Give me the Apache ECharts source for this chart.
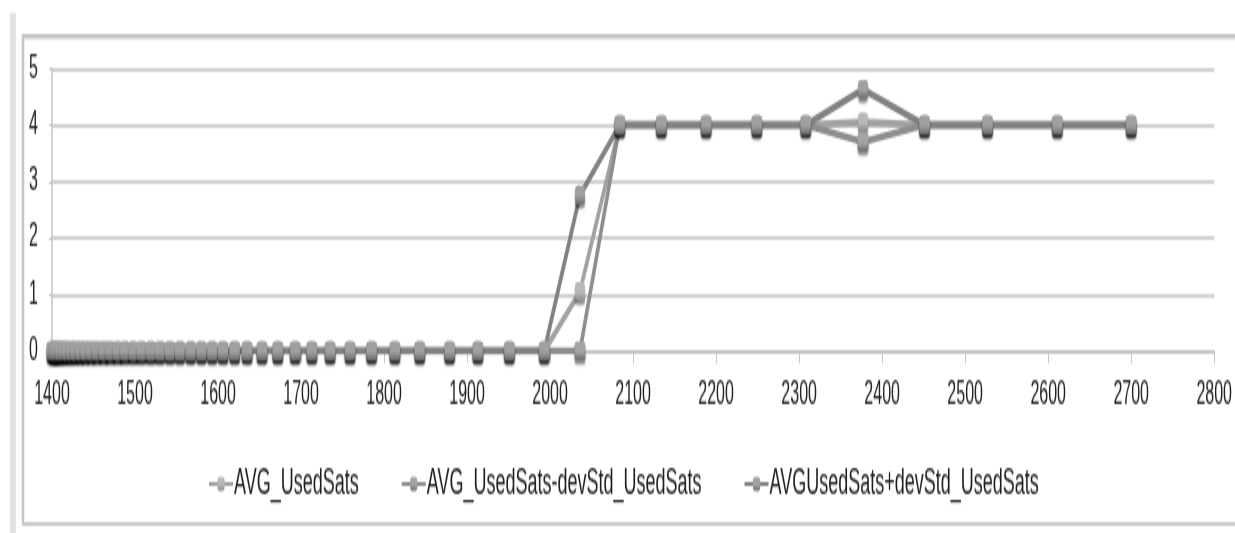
<!DOCTYPE html>
<html>
<head>
<meta charset="utf-8">
<script src="https://cdn.jsdelivr.net/npm/echarts@6/dist/echarts.min.js"></script>
<style>
  html, body { margin: 0; padding: 0; background: #ffffff; }
  #wrap { width: 1235px; height: 533px; overflow: hidden; position: relative; }
  /* the chart is laid out at half height and stretched vertically */
  #chart { width: 1235px; height: 266.5px; transform: scaleY(2); transform-origin: 0 0; }
</style>
</head>
<body>
<div id="wrap"><div id="chart"></div></div>
<script>
// Sample positions (x) shared by the three series
const xValues = [
  1400, 1402, 1404, 1407, 1410, 1414, 1418, 1423, 1428, 1434,
  1440, 1447, 1454, 1462, 1470, 1479, 1488, 1498, 1508, 1519,
  1530, 1542, 1554, 1567, 1580, 1593, 1606, 1620, 1635, 1653,
  1672, 1693, 1713, 1735, 1759, 1785, 1813, 1843, 1879, 1913,
  1951, 1993, 2036, 2084, 2134, 2188, 2249, 2308, 2377, 2451,
  2527, 2611, 2700
];

const avgUsedSats = [
  0, 0, 0, 0, 0, 0, 0, 0, 0, 0,
  0, 0, 0, 0, 0, 0, 0, 0, 0, 0,
  0, 0, 0, 0, 0, 0, 0, 0, 0, 0,
  0, 0, 0, 0, 0, 0, 0, 0, 0, 0,
  0, 0, 1.05, 4, 4, 4, 4, 4, 4.05, 4,
  4, 4, 4
];

const avgMinusStd = [
  0, 0, 0, 0, 0, 0, 0, 0, 0, 0,
  0, 0, 0, 0, 0, 0, 0, 0, 0, 0,
  0, 0, 0, 0, 0, 0, 0, 0, 0, 0,
  0, 0, 0, 0, 0, 0, 0, 0, 0, 0,
  0, 0, 0, 4, 4, 4, 4, 4, 3.7, 4,
  4, 4, 4
];

const avgPlusStd = [
  0, 0, 0, 0, 0, 0, 0, 0, 0, 0,
  0, 0, 0, 0, 0, 0, 0, 0, 0, 0,
  0, 0, 0, 0, 0, 0, 0, 0, 0, 0,
  0, 0, 0, 0, 0, 0, 0, 0, 0, 0,
  0, 0, 2.76, 4, 4, 4, 4, 4, 4.63, 4,
  4, 4, 4
];

const seriesNames = [
  'AVG_UsedSats',
  'AVG_UsedSats-devStd_UsedSats',
  'AVGUsedSats+devStd_UsedSats'
];

const xMin = 1400, xMax = 2800, xStep = 100;
const yMin = 0, yMax = 5, yStep = 1;

const FONT = '"Liberation Sans", Arial, sans-serif';

function pairs(ys) {
  return xValues.map((x, i) => [x, ys[i]]);
}

function markerFill(top, bottom) {
  return {
    type: 'linear', x: 0, y: 0, x2: 0, y2: 1,
    colorStops: [{ offset: 0, color: top }, { offset: 0.55, color: top }, { offset: 1, color: bottom }]
  };
}

function makeSeries(name, ys, lineColor, top, bottom, size) {
  return {
    name: name,
    type: 'line',
    data: pairs(ys),
    symbol: 'roundRect',
    symbolSize: size,
    showSymbol: true,
    lineStyle: { color: lineColor, width: 3.6 },
    itemStyle: {
      color: markerFill(top, bottom),
      borderWidth: 0,
      shadowColor: 'rgba(0,0,0,0.45)',
      shadowBlur: 1.5,
      shadowOffsetY: 2
    },
    emphasis: { disabled: true },
    animation: false
  };
}

const chart = echarts.init(document.getElementById('chart'), null, { renderer: 'canvas', devicePixelRatio: 1 });

chart.setOption({
  backgroundColor: '#ffffff',
  animation: false,
  graphic: [
    { type: 'rect', shape: { x: 10, y: 6.5, width: 6, height: 262 }, style: { fill: '#e2e2e2' }, silent: true },
    { type: 'line', shape: { x1: 23, y1: 17, x2: 23, y2: 262 }, style: { stroke: '#c6c6c6', lineWidth: 2.5 }, silent: true },
    { type: 'line', shape: { x1: 22, y1: 18.3, x2: 1235, y2: 18.3 }, style: { stroke: '#c8c8c8', lineWidth: 2.5 }, silent: true },
    { type: 'line', shape: { x1: 22, y1: 262, x2: 1235, y2: 262 }, style: { stroke: '#cacaca', lineWidth: 2 }, silent: true }
  ],
  grid: { left: 52, right: 20, top: 34.25, height: 141.25, containLabel: false },
  xAxis: {
    type: 'value',
    min: xMin, max: xMax, interval: xStep,
    axisLine: { show: true, lineStyle: { color: '#c4c4c4', width: 1.5 } },
    axisTick: { show: true, length: 6, lineStyle: { color: '#c4c4c4', width: 1 } },
    splitLine: { show: false },
    axisLabel: {
      color: '#222222', fontFamily: FONT, fontSize: 16, margin: 14,
      formatter: (v) => String(v)
    }
  },
  yAxis: {
    type: 'value',
    min: yMin, max: yMax, interval: yStep,
    axisLine: { show: true, lineStyle: { color: '#c4c4c4', width: 1.5 } },
    axisTick: { show: true, length: 3, lineStyle: { color: '#c4c4c4' } },
    splitLine: { show: true, lineStyle: { color: '#d2d2d2', width: 2 } },
    axisLabel: { color: '#222222', fontFamily: FONT, fontSize: 16, margin: 14 }
  },
  legend: {
    left: 203,
    top: 228,
    itemWidth: 24,
    itemHeight: 9,
    itemGap: 42,
    data: seriesNames,
    textStyle: { fontFamily: FONT, fontSize: 18, color: '#1e1e1e', padding: [0, 0, 0, -4] }
  },
  series: [
    makeSeries(seriesNames[0], avgUsedSats, '#a2a2a2', '#b8b8b8', '#8a8a8a', [10, 9.5]),
    makeSeries(seriesNames[1], avgMinusStd, '#8e8e8e', '#a4a4a4', '#6c6c6c', [11, 9.5]),
    makeSeries(seriesNames[2], avgPlusStd, '#828282', '#a0a0a0', '#6a6a6a', [10, 9.5])
  ]
});
</script>
</body>
</html>
